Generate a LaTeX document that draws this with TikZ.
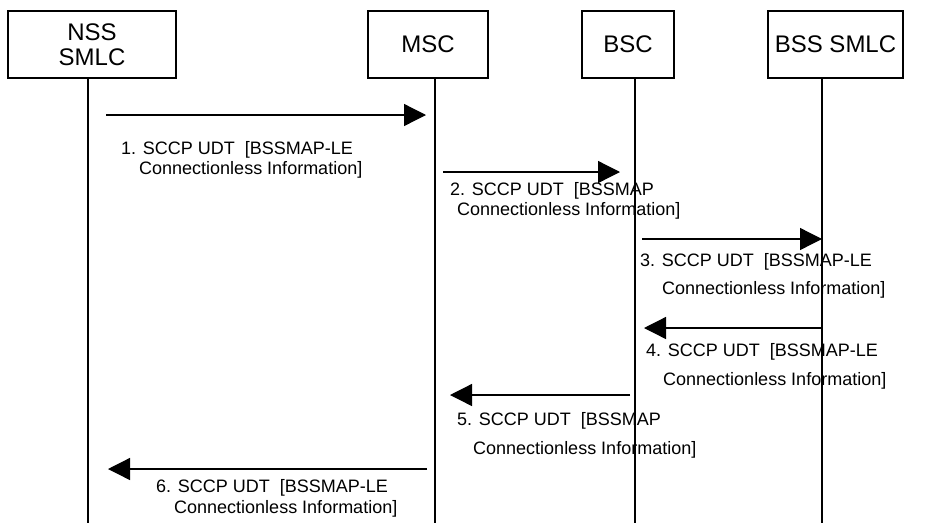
\documentclass[tikz,border=0pt]{standalone}
\usepackage{fontspec}
\setmainfont{Liberation Sans}
\usetikzlibrary{arrows.meta}
\begin{document}
\begin{tikzpicture}[x=1pt,y=-1pt,
  entity/.style={draw, line width=1.3pt, inner sep=0pt, align=center,
    font=\fontsize{24}{25}\selectfont},
  life/.style={line width=1.1pt},
  msg/.style={line width=1.3pt, -{Triangle[length=22pt,width=22pt]}},
  lbl/.style={anchor=base west, inner sep=0pt, font=\fontsize{18}{21}\selectfont}]
\useasboundingbox (0,0) rectangle (934,523);
% entity boxes
\node[entity, minimum width=168pt, minimum height=67pt] (nss) at (92,44.5) {NSS\\SMLC};
\node[entity, minimum width=120pt, minimum height=67pt] (msc) at (428,44.5) {MSC};
\node[entity, minimum width=92pt, minimum height=67pt] (bsc) at (628,44.5) {BSC};
\node[entity, minimum width=135pt, minimum height=67pt] (bss) at (835.5,44.5) {BSS SMLC};
% lifelines
\coordinate (nssT) at (88,78);  \coordinate (nssB) at (88,523);
\coordinate (mscT) at (435,78); \coordinate (mscB) at (435,523);
\coordinate (bscT) at (635,78); \coordinate (bscB) at (635,523);
\coordinate (bssT) at (822,78); \coordinate (bssB) at (822,523);
\draw[life] (nssT) -- (nssB);
\draw[life] (mscT) -- (mscB);
\draw[life] (bscT) -- (bscB);
\draw[life] (bssT) -- (bssB);
% message end points
\coordinate (m1a) at (106,115); \coordinate (m1b) at (426,115);
\coordinate (m2a) at (443,172); \coordinate (m2b) at (620,172);
\coordinate (m3a) at (642,239); \coordinate (m3b) at (822,239);
\coordinate (m4a) at (822,328); \coordinate (m4b) at (644,328);
\coordinate (m5a) at (630,395); \coordinate (m5b) at (450,395);
\coordinate (m6a) at (427,469); \coordinate (m6b) at (108,469);
\draw[msg] (m1a) -- (m1b);
\draw[msg] (m2a) -- (m2b);
\draw[msg] (m3a) -- (m3b);
\draw[msg] (m4a) -- (m4b);
\draw[msg] (m5a) -- (m5b);
\draw[msg] (m6a) -- (m6b);
% labels
\node[lbl] (l1a) at (121,154) {1. SCCP UDT\ \ [BSSMAP-LE};
\node[lbl] (l1b) at (139,174) {Connectionless Information]};
\node[lbl] (l2a) at (450,195) {2. SCCP UDT\ \ [BSSMAP};
\node[lbl] (l2b) at (457,215) {Connectionless Information]};
\node[lbl] (l3a) at (640,266) {3. SCCP UDT\ \ [BSSMAP-LE};
\node[lbl] (l3b) at (662,294) {Connectionless Information]};
\node[lbl] (l4a) at (646,356) {4. SCCP UDT\ \ [BSSMAP-LE};
\node[lbl] (l4b) at (663,385) {Connectionless Information]};
\node[lbl] (l5a) at (457,425) {5. SCCP UDT\ \ [BSSMAP};
\node[lbl] (l5b) at (473,454) {Connectionless Information]};
\node[lbl] (l6a) at (156,492) {6. SCCP UDT\ \ [BSSMAP-LE};
\node[lbl] (l6b) at (174,513) {Connectionless Information]};
\end{tikzpicture}
\end{document}
